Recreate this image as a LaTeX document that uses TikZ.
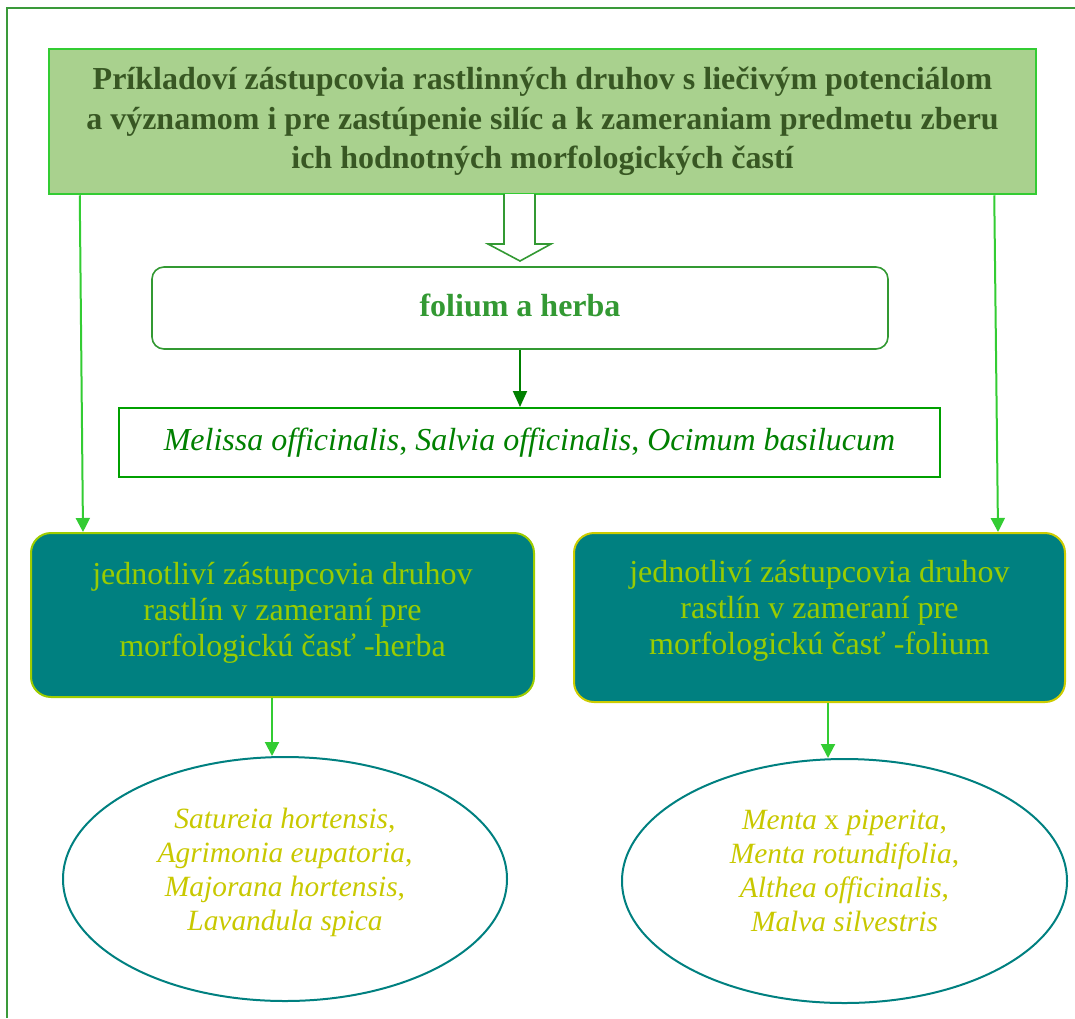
\documentclass[tikz,border=0pt]{standalone}
\usepackage{fontspec}
\setmainfont{Liberation Serif}
\usetikzlibrary{arrows.meta,shapes.geometric,calc}

\definecolor{framegreen}{HTML}{3A9A3A}
\definecolor{brightgreen}{HTML}{33CC33}
\definecolor{titlefill}{HTML}{A9D18E}
\definecolor{titletext}{HTML}{385723}
\definecolor{midgreen}{HTML}{339933}
\definecolor{darkgreen}{HTML}{008000}
\definecolor{boxgreen}{HTML}{00A000}
\definecolor{tealfill}{HTML}{008080}
\definecolor{limetext}{HTML}{99CC00}
\definecolor{yellowline}{HTML}{CCCC00}
\definecolor{yellowtext}{HTML}{C8C800}

\tikzset{
  titlebox/.style={draw=brightgreen, line width=2.5pt, fill=titlefill, text=titletext,
    font=\fontsize{32}{39.5}\selectfont\bfseries, align=center, inner sep=0pt},
  partbox/.style={draw=midgreen, line width=1.6pt, rounded corners=12pt, fill=white,
    text=midgreen, font=\fontsize{32}{34}\selectfont\bfseries, inner sep=0pt},
  speciesbox/.style={draw=boxgreen, line width=2pt, fill=white, text=darkgreen,
    font=\fontsize{32}{34}\selectfont, inner sep=0pt},
  groupbox/.style={line width=2pt, rounded corners=20pt, fill=tealfill, text=limetext,
    font=\fontsize{32}{36}\selectfont, align=center, inner sep=0pt},
  plantoval/.style={ellipse, draw=tealfill, line width=2pt, text=yellowtext,
    font=\fontsize{29.4}{34}\selectfont, align=center, inner sep=0pt},
  link/.style={draw=brightgreen, line width=2pt, -{Triangle[width=14pt,length=14pt]}},
  darklink/.style={draw=darkgreen, line width=2pt, -{Triangle[width=14pt,length=16pt]}},
  blockarrow/.style={draw=midgreen, line width=1.6pt, fill=white, line join=miter}
}

\begin{document}
\begin{tikzpicture}[x=1pt,y=-1pt]
  \useasboundingbox (0,0) rectangle (1075,1018);

  % outer frame (top and left edges)
  \draw[framegreen, line width=2pt] (1075,8) -- (7,8) -- (7,1018);

  % title
  \node[titlebox, minimum width=987pt, minimum height=145pt] (title) at (542.5,121.5)
    {Príkladoví zástupcovia rastlinných druhov s liečivým potenciálom\\
     a významom i pre zastúpenie silíc a k zameraniam predmetu zberu\\
     ich hodnotných morfologických častí};

  % folium a herba
  \node[partbox, minimum width=736pt, minimum height=82pt] (part) at (520,308)
    {\raisebox{6pt}{folium a herba}};

  % hollow block arrow between title and part box
  \draw[blockarrow] (504,194) -- (504,244) -- (488,244) -- (520,261) -- (551,244)
    -- (535,244) -- (535,194);

  % species line
  \node[speciesbox, minimum width=821pt, minimum height=69pt] (species) at (529.5,442.5)
    {\textit{Melissa officinalis}, \textit{Salvia officinalis}, \textit{Ocimum basilucum}};

  % group boxes
  \node[groupbox, draw=limetext!90!yellowline, minimum width=503pt, minimum height=164pt] (herba) at (282.5,615)
    {jednotliví zástupcovia druhov\\ rastlín v zameraní pre\\ morfologickú časť -herba\\[-24pt]};
  \node[groupbox, draw=yellowline, minimum width=491pt, minimum height=169pt] (folium) at (819.5,617.5)
    {jednotliví zástupcovia druhov\\ rastlín v zameraní pre\\ morfologickú časť -folium\\[-16pt]};

  % ovals with plant names
  \node[plantoval, minimum width=444pt, minimum height=244pt] (herbaplants) at (285,879)
    {\textit{Satureia hortensis},\\ \textit{Agrimonia eupatoria},\\
     \textit{Majorana hortensis},\\ \textit{Lavandula spica}\\[-14pt]};
  \node[plantoval, minimum width=445pt, minimum height=244pt] (foliumplants) at (844.5,881)
    {\textit{Menta} x \textit{piperita},\\ \textit{Menta rotundifolia},\\
     \textit{Althea officinalis},\\ \textit{Malva silvestris}\\[-14pt]};

  % connectors
  \draw[darklink] (part.south) -- (part.south |- species.north);
  \draw[link] ($(title.south west)+(32,0)$) -- ($(herba.north west)+(53,0)$);
  \draw[link] ($(title.south east)+(-43,0)$) -- ($(folium.north east)+(-68,0)$);
  \draw[link] ($(herba.south west)+(242,0)$) coordinate (herbaout)
    -- (herbaout |- herbaplants.north);
  \draw[link] ($(folium.south west)+(255,0)$) coordinate (foliumout)
    -- (foliumout |- foliumplants.north);
\end{tikzpicture}
\end{document}
